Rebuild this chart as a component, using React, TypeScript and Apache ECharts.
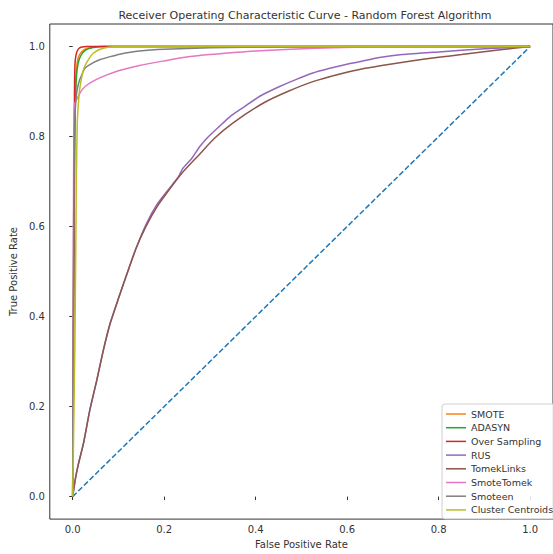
import React, { useEffect, useRef } from "react";
import * as echarts from "echarts";

const TITLE = "Receiver Operating Characteristic Curve - Random Forest Algorithm";
const X_NAME = "False Positive Rate";
const Y_NAME = "True Positive Rate";
const TICKS = [0, 0.2, 0.4, 0.6, 0.8, 1.0];

const diagFpr = [0, 1];
const diagTpr = [0, 1];

const smoteFpr = [0, 0.003, 0.005, 0.007, 0.01, 0.015, 0.025, 0.04, 0.06, 1];
const smoteTpr = [0, 0.6, 0.85, 0.93, 0.965, 0.982, 0.993, 0.998, 1, 1];

const adasynFpr = [0, 0.003, 0.005, 0.008, 0.012, 0.018, 0.028, 0.045, 0.07, 1];
const adasynTpr = [0, 0.58, 0.84, 0.93, 0.963, 0.98, 0.992, 0.998, 1, 1];

const overFpr = [0, 0.003, 0.004, 0.005, 0.007, 0.01, 0.014, 0.02, 0.03, 1];
const overTpr = [0, 0.7, 0.9, 0.96, 0.98, 0.99, 0.996, 0.999, 1, 1];

const rusFpr = [0, 0.006, 0.012, 0.024, 0.037, 0.053, 0.067, 0.082, 0.1, 0.117, 0.138, 0.16, 0.185, 0.217, 0.232, 0.24, 0.26, 0.278, 0.296, 0.32, 0.346, 0.375, 0.41, 0.45, 0.489, 0.525, 0.56, 0.597, 0.632, 0.667, 0.72, 0.8, 0.9, 1];
const rusTpr = [0, 0.04, 0.07, 0.12, 0.19, 0.26, 0.325, 0.385, 0.44, 0.49, 0.55, 0.604, 0.65, 0.692, 0.712, 0.728, 0.751, 0.778, 0.799, 0.822, 0.846, 0.866, 0.89, 0.91, 0.927, 0.941, 0.951, 0.96, 0.967, 0.975, 0.982, 0.988, 0.995, 1];

const tomekFpr = [0, 0.006, 0.012, 0.024, 0.037, 0.053, 0.067, 0.082, 0.1, 0.117, 0.138, 0.16, 0.185, 0.217, 0.24, 0.275, 0.31, 0.35, 0.418, 0.47, 0.525, 0.58, 0.632, 0.69, 0.74, 0.8, 0.85, 0.93, 1];
const tomekTpr = [0, 0.04, 0.07, 0.12, 0.19, 0.26, 0.325, 0.385, 0.44, 0.49, 0.55, 0.6, 0.645, 0.69, 0.72, 0.758, 0.796, 0.83, 0.875, 0.9, 0.922, 0.938, 0.95, 0.96, 0.968, 0.976, 0.982, 0.992, 1];

const smoteTomekFpr = [0, 0.002, 0.003, 0.005, 0.01, 0.02, 0.032, 0.05, 0.075, 0.1, 0.146, 0.2, 0.253, 0.3, 0.4, 0.53, 0.65, 0.8, 1];
const smoteTomekTpr = [0, 0.7, 0.85, 0.875, 0.885, 0.903, 0.915, 0.926, 0.937, 0.946, 0.958, 0.968, 0.977, 0.982, 0.99, 0.996, 0.999, 1, 1];

const smoteenFpr = [0, 0.002, 0.004, 0.007, 0.01, 0.015, 0.028, 0.045, 0.06, 0.08, 0.103, 0.146, 0.2, 0.3, 0.45, 0.6, 1];
const smoteenTpr = [0, 0.6, 0.82, 0.88, 0.905, 0.925, 0.953, 0.964, 0.971, 0.977, 0.983, 0.99, 0.994, 0.997, 0.999, 1, 1];

const clusterFpr = [0, 0.005, 0.008, 0.01, 0.013, 0.016, 0.024, 0.035, 0.045, 0.06, 0.08, 0.1, 1];
const clusterTpr = [0, 0.35, 0.7, 0.83, 0.88, 0.91, 0.95, 0.972, 0.985, 0.994, 0.999, 1, 1];

const SERIES = [
  { name: "SMOTE", color: "#ff7f0e", fpr: smoteFpr, tpr: smoteTpr },
  { name: "ADASYN", color: "#2ca02c", fpr: adasynFpr, tpr: adasynTpr },
  { name: "Over Sampling", color: "#d62728", fpr: overFpr, tpr: overTpr },
  { name: "RUS", color: "#9467bd", fpr: rusFpr, tpr: rusTpr },
  { name: "TomekLinks", color: "#8c564b", fpr: tomekFpr, tpr: tomekTpr },
  { name: "SmoteTomek", color: "#e377c2", fpr: smoteTomekFpr, tpr: smoteTomekTpr },
  { name: "Smoteen", color: "#7f7f7f", fpr: smoteenFpr, tpr: smoteenTpr },
  { name: "Cluster Centroids", color: "#bcbd22", fpr: clusterFpr, tpr: clusterTpr },
];

const FONT = "DejaVu Sans";
const TEXT = "#333";

export default function App() {
  const ref = useRef<HTMLDivElement>(null);
  useEffect(() => {
    if (!ref.current) return;
    const chart = echarts.init(ref.current, null, { renderer: "svg" });
    const zip = (a: number[], b: number[]) => a.map((v, i) => [v, b[i]]);
    const axisCommon = {
      type: "value",
      min: -0.05,
      max: 1.05,
      nameLocation: "middle",
      nameTextStyle: { fontFamily: FONT, fontSize: 10, color: TEXT },
      axisLine: { show: false },
      splitLine: { show: false },
      axisTick: { show: true, customValues: TICKS, length: 3.5, lineStyle: { color: TEXT } },
      axisLabel: {
        customValues: TICKS,
        fontFamily: FONT,
        fontSize: 10,
        color: TEXT,
        formatter: (v: number) => v.toFixed(1),
      },
    };
    chart.setOption({
      animation: false,
      backgroundColor: "#fff",
      grid: { left: 48, top: 24, width: 513, height: 500, show: true, borderColor: "#333", borderWidth: 1 },
      graphic: [
        {
          type: "text",
          x: 305,
          y: 15,
          style: {
            text: TITLE,
            fontFamily: FONT,
            fontSize: 11,
            fill: TEXT,
            textAlign: "center",
            textVerticalAlign: "middle",
          },
        },
      ],
      xAxis: {
        ...axisCommon,
        name: X_NAME,
        nameGap: 17,
        axisLabel: { ...axisCommon.axisLabel, margin: 5 },
      },
      yAxis: {
        ...axisCommon,
        name: Y_NAME,
        nameGap: 27,
        axisLabel: { ...axisCommon.axisLabel, margin: 5 },
      },
      legend: {
        data: SERIES.map((s) => s.name),
        orient: "vertical",
        left: 442,
        top: 404,
        padding: [4, 5, 3, 4],
        itemWidth: 20,
        itemHeight: 12,
        itemGap: 1.7,
        icon: "path://M0,0 H20 V1.5 H0 Z",
        backgroundColor: "rgba(255,255,255,0.85)",
        borderColor: "#d0d0d0",
        borderWidth: 1,
        borderRadius: 3,
        textStyle: { fontFamily: FONT, fontSize: 9.5, color: TEXT, lineHeight: 12 },
      },
      series: [
        {
          name: "diag",
          type: "line",
          data: zip(diagFpr, diagTpr),
          symbol: "none",
          lineStyle: { color: "#1f77b4", width: 1.5, type: [5.5, 2.4] },
          itemStyle: { color: "#1f77b4" },
        },
        ...SERIES.map((s) => ({
          name: s.name,
          type: "line",
          data: zip(s.fpr, s.tpr),
          symbol: "none",
          smooth: 0.2,
          lineStyle: { color: s.color, width: 1.5 },
          itemStyle: { color: s.color },
        })),
      ],
    });
    return () => chart.dispose();
  }, []);
  return (
    <div
      ref={ref}
      style={{ position: "fixed", left: 0, top: 0, width: 553, height: 554 }}
    />
  );
}
